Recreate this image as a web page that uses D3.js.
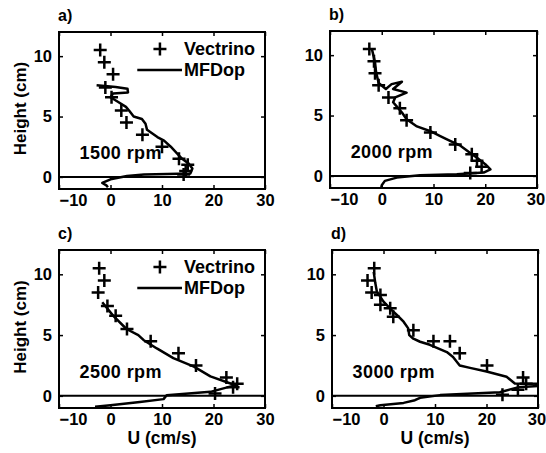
<!DOCTYPE html>
<html>
<head>
<meta charset="utf-8">
<script src="https://cdn.jsdelivr.net/npm/d3@7"></script>
<style>
  body { margin: 0; background: #fff; }
  text { font-family: "Liberation Sans", Arial, sans-serif; font-weight: bold; fill: #000; }
</style>
</head>
<body>
<svg id="chart" width="546" height="453"></svg>
<script>
// tick values shared by all four panels
const uTicks = [-10, 0, 10, 20, 30]
const hTicks = [0, 5, 10]
const uDomain = [-10, 30]
const hDomain = [-1, 12]

// Vectrino points, [U (cm/s), height (cm)]
const vec1500 = [[-2, 10.5], [-1.2, 9.5], [0.5, 8.5], [-1, 7.4], [0.2, 6.6], [2.1, 5.5], [3.1, 4.5], [6.2, 3.5],
  [10, 2.5], [13.3, 1.5], [15, 1.0], [14.6, 0.5], [14.2, 0.2]]
const vec2000 = [[-2.4, 10.5], [-1.5, 9.5], [-1.3, 8.5], [-0.6, 7.5], [1.3, 6.5], [3.5, 5.6], [4.8, 4.6], [9.4, 3.6],
  [14.2, 2.6], [17.4, 1.8], [18.4, 1.25], [19.3, 0.75], [17.1, 0.25]]
const vec2500 = [[-2.2, 10.5], [-1.2, 9.5], [-2.4, 8.5], [-0.6, 7.4], [1.0, 6.6], [3.2, 5.5], [7.8, 4.5], [13.2, 3.5],
  [16.6, 2.5], [22.5, 1.5], [24.6, 1.0], [23.8, 0.7], [20.3, 0.2]]
const vec3000 = [[-1.8, 10.5], [-3.1, 9.5], [-2.3, 8.5], [-0.6, 8.3], [-0.6, 7.5], [1.3, 7.2], [1.9, 6.5], [5.8, 5.4],
  [9.7, 4.5], [12.9, 4.5], [14.8, 3.5], [20.1, 2.5], [27.1, 1.5], [27.7, 1.0], [26.1, 0.5], [23.1, 0.1]]

// MFDop profiles, [U (cm/s), height (cm)] in drawing order
const mfd1500 = [[-2.7, 7.6], [1.0, 7.45], [3.3, 7.3], [3.4, 7.0], [0.5, 6.9], [0, 6.6], [1.5, 6.2], [3, 5.8], [3.6, 5.5],
  [4.5, 5.0], [6.1, 4.8], [6.8, 4.4], [7.1, 3.9], [9.1, 3.3], [10.4, 3.0], [11.7, 2.5], [12.6, 2.1], [13.9, 1.5],
  [15.2, 1.1], [15.9, 0.7], [15.5, 0.28], [11, 0.25], [6.5, 0.2], [3.2, 0.08], [0, -0.2], [-1.6, -0.5], [-0.8, -0.7], [-0.5, -0.85]]
const mfd2000 = [[-1.9, 10.5], [-1.3, 9.4], [-1.1, 8.6], [-0.6, 7.7], [0.8, 7.2], [1.9, 7.6], [3.9, 7.8], [2.2, 7.2],
  [4.8, 6.9], [2.6, 6.5], [2.2, 6.1], [3.0, 5.7], [3.9, 5.25], [4.8, 4.7], [6.8, 4.1], [9.4, 3.7], [11.3, 3.3],
  [13.2, 2.9], [15.2, 2.5], [17.1, 1.9], [18.4, 1.5], [20, 0.97], [21, 0.55], [19.7, 0.28], [14.5, 0.14], [7.4, 0.05],
  [2.9, -0.14], [0.6, -0.41], [0, -0.77], [-0.1, -1]]
const mfd2500 = [[-1.6, 7.7], [0.5, 6.6], [3.1, 5.5], [5.4, 5.0], [6.4, 4.6], [9, 3.9], [12.2, 3.1], [16.2, 2.4],
  [19.4, 1.6], [23.3, 1.02], [24.3, 0.88], [19.4, 0.33], [10.9, 0.05], [10.3, -0.27], [5.7, -0.5], [0, -0.77], [-3, -0.9]]
const mfd3000 = [[-1.9, 10.2], [-1.6, 9.3], [-1.3, 8.6], [0, 7.75], [1.6, 7.06], [2.6, 6.65], [3.9, 6.1], [4.8, 5.55],
  [5, 5.0], [5.8, 4.7], [7.1, 4.45], [9, 4.2], [12.3, 3.6], [13.5, 3.2], [14.8, 2.5], [16.8, 2.3], [20, 2.0],
  [23.9, 1.57], [25.5, 1.02], [31, 1.0], [31, 0.85], [26.1, 0.7], [22.6, 0.3], [11, 0.06], [7.1, -0.16], [6.1, -0.36],
  [3.9, -0.58], [-0.6, -0.77], [-1.5, -0.85]]

const panelNames = ["a)", "b)", "c)", "d)"]
const rpmLabels = ["1500 rpm", "2000 rpm", "2500 rpm", "3000 rpm"]
const legendLabels = ["Vectrino", "MFDop"]

const svg = d3.select("#chart")

// axes boxes in page pixels
const panels = [
  { left: 59, right: 265, top: 32, bottom: 189, vec: vec1500, mfd: mfd1500, legend: true, ylab: true, xlab: false },
  { left: 330, right: 537, top: 31, bottom: 188, vec: vec2000, mfd: mfd2000, legend: false, ylab: false, xlab: false },
  { left: 59, right: 265, top: 250, bottom: 408, vec: vec2500, mfd: mfd2500, legend: true, ylab: true, xlab: true },
  { left: 332, right: 538, top: 250, bottom: 408, vec: vec3000, mfd: mfd3000, legend: false, ylab: false, xlab: true }
]

const plus = "M-6.5,0H6.5M0,-6.5V6.5"

function drawPanel(p, i) {
    const x = d3.scaleLinear().domain(uDomain).range([0, p.right - p.left])
    const y = d3.scaleLinear().domain(hDomain).range([p.bottom - p.top, 0])
    const w = p.right - p.left, h = p.bottom - p.top

    const g = svg.append("g")
        .attr("transform", "translate(" + p.left + "," + p.top + ")")

    g.append("clipPath").attr("id", "clip" + i)
        .append("rect").attr("width", w).attr("height", h)

    // axes with inward ticks
    const xb = g.append("g").attr("transform", "translate(0," + h + ")")
        .call(d3.axisBottom(x).tickValues(uTicks).tickSize(-4).tickPadding(5))
    xb.selectAll("text").filter(d => d === -10).attr("text-anchor", "start")
    if (i % 2 === 1) xb.selectAll("text").filter(d => d === 30).attr("dx", -1.5)
    g.append("g").call(d3.axisTop(x).tickValues(uTicks).tickSize(-4).tickFormat(""))
    g.append("g").call(d3.axisLeft(y).tickValues(hTicks).tickSize(-4).tickPadding(7))
    g.append("g").attr("transform", "translate(" + w + ",0)")
        .call(d3.axisRight(y).tickValues(hTicks).tickSize(-4).tickFormat(""))

    g.selectAll(".domain").remove()
    g.selectAll(".tick line").attr("stroke", "#000").attr("stroke-width", 1.5)
    g.selectAll(".tick text").style("font-size", "16.5px").style("font-family", null).attr("fill", "#000")

    // zero line
    g.append("line")
        .attr("x1", 0).attr("x2", w)
        .attr("y1", y(0)).attr("y2", y(0))
        .attr("stroke", "#000").attr("stroke-width", 2)

    const line = d3.line().x(d => x(d[0])).y(d => y(d[1]))
    g.append("path")
        .datum(p.mfd)
        .attr("clip-path", "url(#clip" + i + ")")
        .attr("d", line)
        .attr("fill", "none")
        .attr("stroke", "#000")
        .attr("stroke-width", 2.5)
        .attr("stroke-linejoin", "round")

    g.append("g").selectAll("path")
        .data(p.vec)
        .join("path")
        .attr("d", plus)
        .attr("transform", d => "translate(" + x(d[0]) + "," + y(d[1]) + ")")
        .attr("stroke", "#000")
        .attr("stroke-width", 2.5)

    g.append("rect")
        .attr("width", w).attr("height", h)
        .attr("fill", "none").attr("stroke", "#000").attr("stroke-width", 2)

    // labels
    g.append("text").attr("x", -1).attr("y", -11).style("font-size", "16px").text(panelNames[i])
    g.append("text").attr("x", x(-6)).attr("y", y(2) + 6).style("font-size", "18px")
        .style("letter-spacing", "0.4px").text(rpmLabels[i])

    if (p.legend) {
        g.append("path").attr("d", plus)
            .attr("transform", "translate(" + (w * 0.49) + ",17)")
            .attr("stroke", "#000").attr("stroke-width", 2.5)
        g.append("text").attr("x", w * 0.607).attr("y", 23).style("font-size", "18px").text(legendLabels[0])
        g.append("line").attr("x1", w * 0.38).attr("x2", w * 0.597).attr("y1", 38).attr("y2", 38)
            .attr("stroke", "#000").attr("stroke-width", 2.5)
        g.append("text").attr("x", w * 0.607).attr("y", 44).style("font-size", "18px").text(legendLabels[1])
    }
    if (p.ylab) {
        g.append("text")
            .attr("transform", "translate(-33," + (h / 2 - 2) + ") rotate(-90)")
            .attr("text-anchor", "middle")
            .style("font-size", "17px")
            .text("Height (cm)")
    }
    if (p.xlab) {
        g.append("text")
            .attr("x", w / 2).attr("y", h + 36)
            .attr("text-anchor", "middle")
            .style("font-size", "17.5px")
            .text("U (cm/s)")
    }
}

panels.forEach(drawPanel)
</script>
</body>
</html>
